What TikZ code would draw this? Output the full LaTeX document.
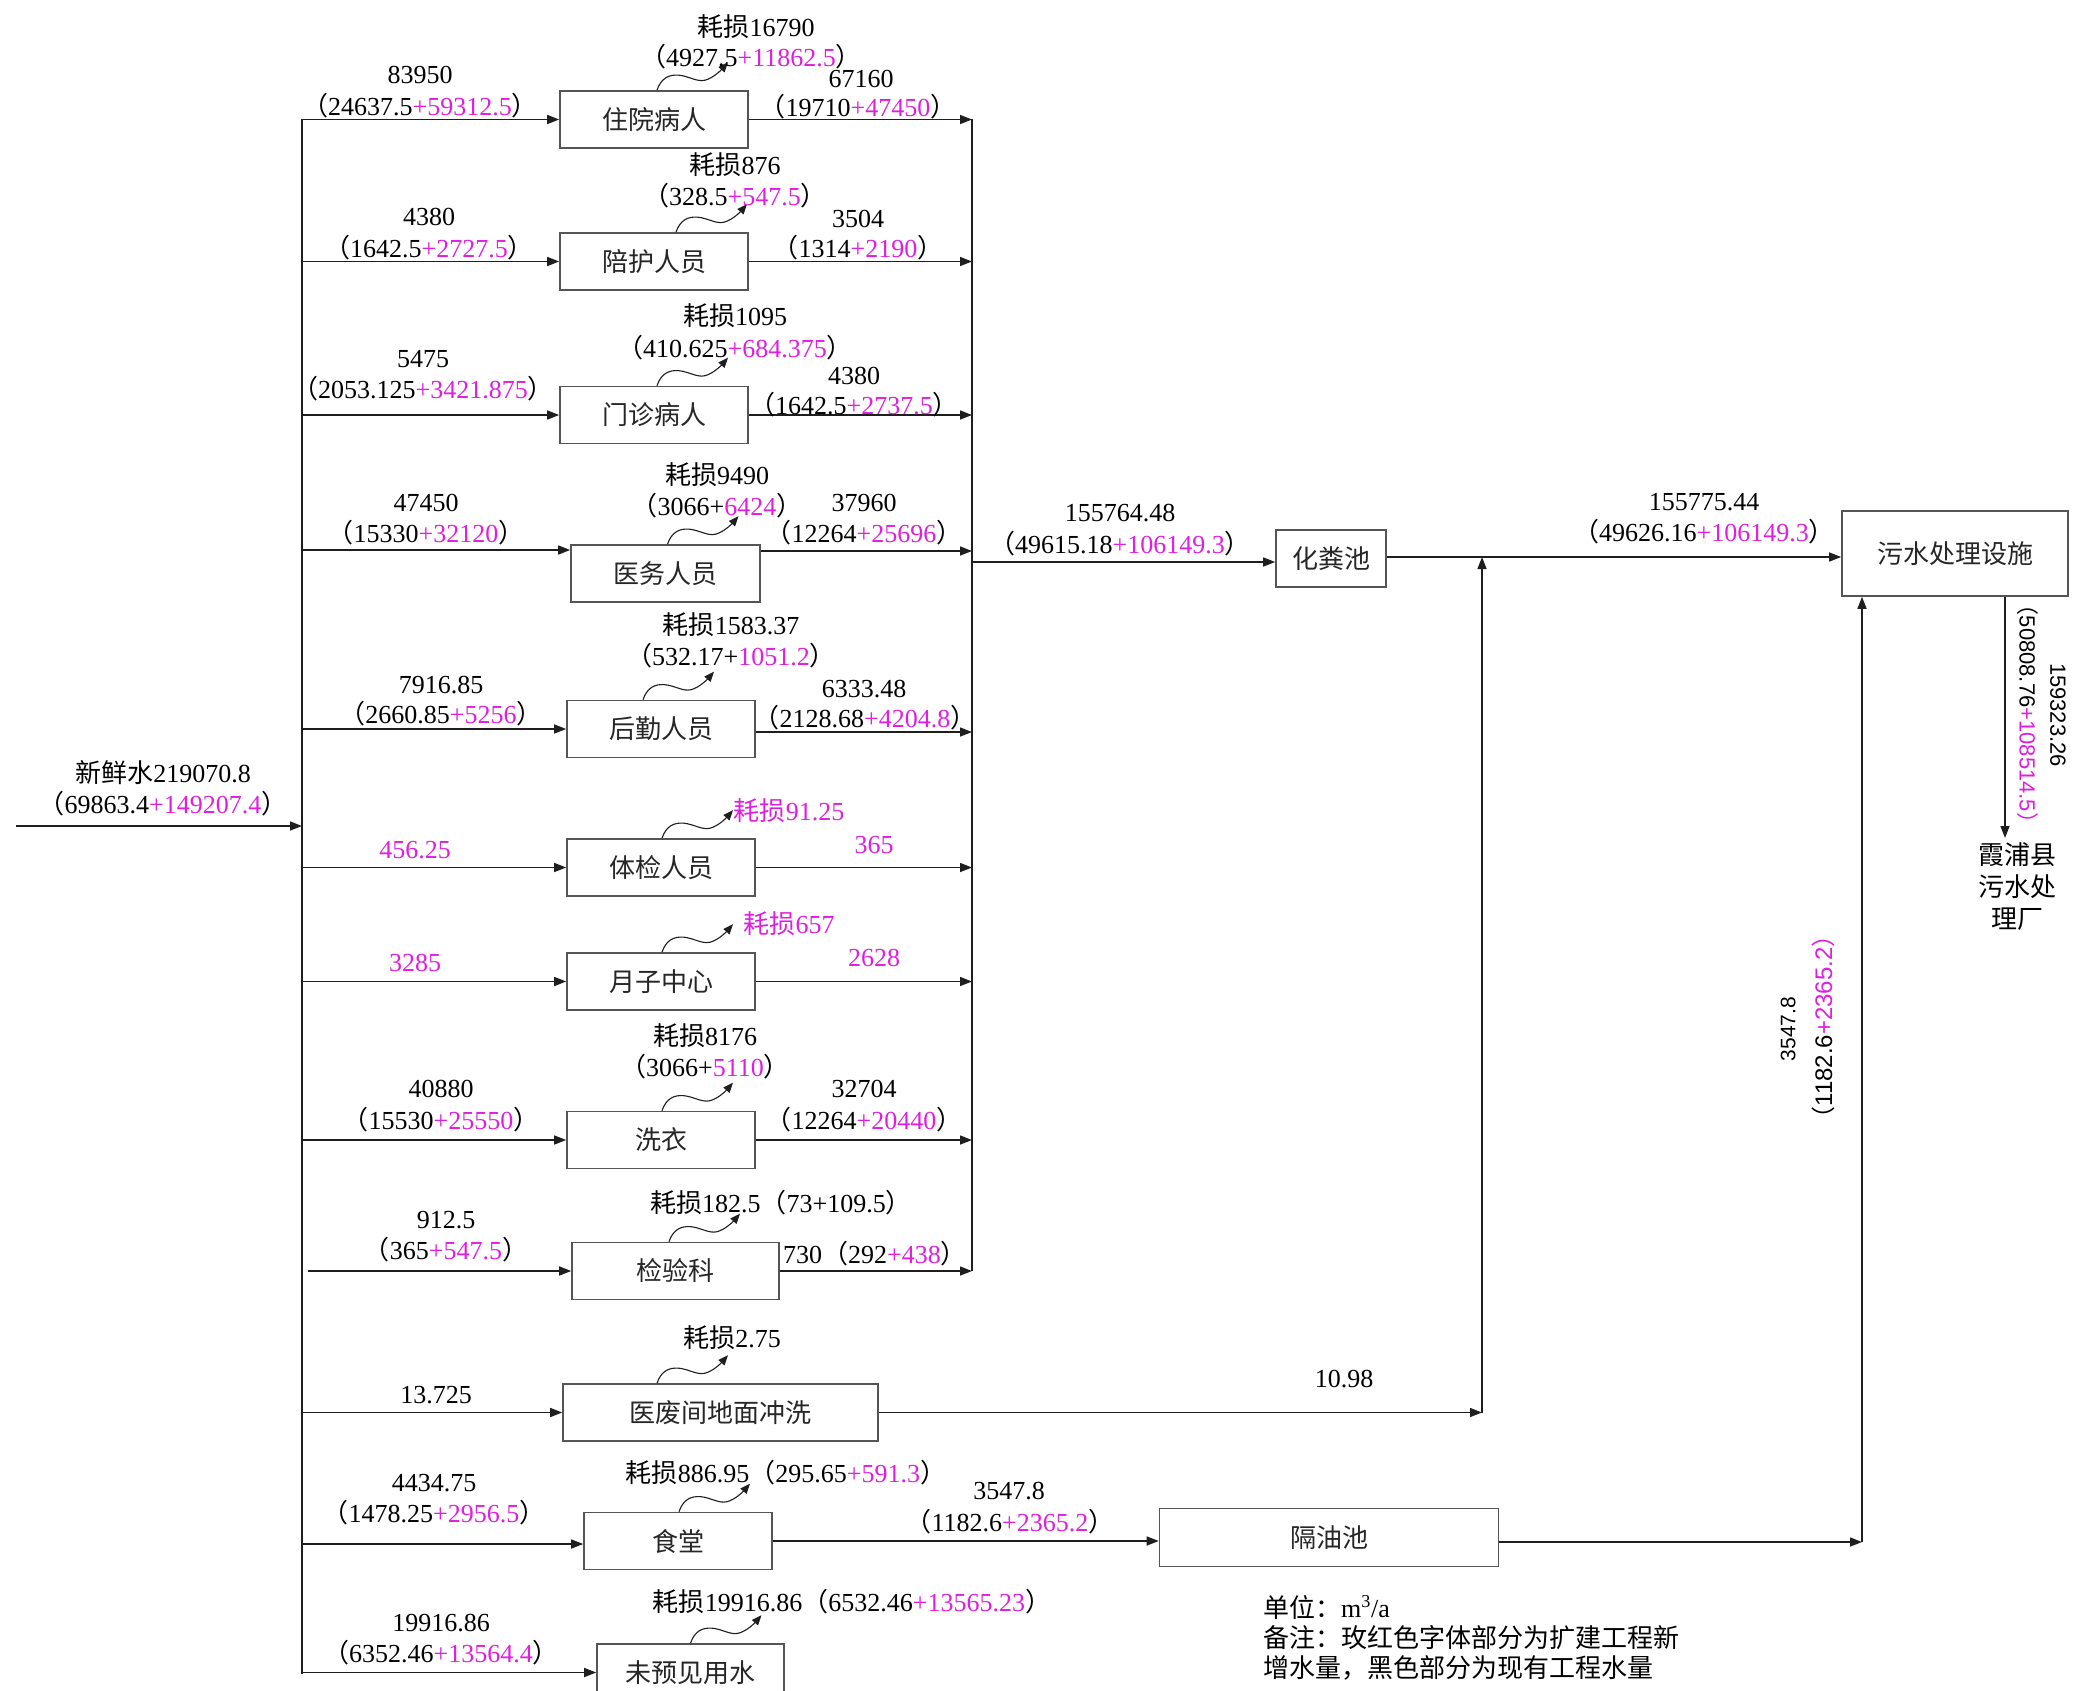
\documentclass[tikz,border=0pt]{standalone}
\usepackage{fontspec}
\setmainfont{Liberation Serif}
\newfontfamily\cjk{Noto Sans CJK SC}
\newfontfamily\sansnum{Liberation Sans}
\usetikzlibrary{arrows.meta,calc}
\definecolor{mag}{RGB}{222,32,222}
\definecolor{boxc}{RGB}{85,85,85}
\definecolor{linec}{RGB}{30,30,30}
\newcommand\LP{{\cjk （}}
\newcommand\RP{{\cjk ）}}
\newcommand\HS{{\cjk 耗损}}
\newcommand\mg[1]{\textcolor{mag}{#1}}
\begin{document}
\begin{tikzpicture}[x=1pt,y=-1pt,
  font=\fontsize{26}{31}\selectfont,
  box/.style={draw=boxc, line width=1.6pt, minimum height=57pt, inner sep=0pt,
    font=\cjk\fontsize{26}{31}\selectfont, text=black!85},
  lbl/.style={inner sep=0pt},
  rlbl/.style={inner sep=0pt, font=\sansnum\fontsize{21}{25}\selectfont},
  flow/.style={draw=linec, line width=1.4pt},
  arr/.style={flow, -{Triangle[length=12pt,width=9pt]}},
  lossl/.style={draw=linec, line width=1.1pt, -{Triangle[length=10pt,width=8pt]}},
  loss/.pic={\draw[lossl] (0,0) .. controls (4,-12) and (12,-16) .. (22,-15)
     .. controls (32,-14) and (40,-8) .. (48,-10)
     .. controls (56,-12) and (64,-20) .. (71,-28);}
]
\fill[white] (0,0) rectangle (2075,1691);
\useasboundingbox (0,0) rectangle (2075,1691);

% boxes
\node[box, minimum width=188pt] (b1) at (654,119.5) {住院病人};
\node[box, minimum width=188pt] (b2) at (654,261.5) {陪护人员};
\node[box, minimum width=188pt] (b3) at (654,415) {门诊病人};
\node[box, minimum width=189pt] (b4) at (665.5,573.5) {医务人员};
\node[box, minimum width=188pt] (b5) at (661,729) {后勤人员};
\node[box, minimum width=188pt] (b6) at (661,867.5) {体检人员};
\node[box, minimum width=188pt] (b7) at (661,981.5) {月子中心};
\node[box, minimum width=188pt] (b8) at (661,1140) {洗衣};
\node[box, minimum width=207pt] (b9) at (675.5,1271) {检验科};
\node[box, minimum width=315pt] (b10) at (720.5,1412.5) {医废间地面冲洗};
\node[box, minimum width=188pt] (b11) at (678,1541) {食堂};
\node[box, minimum width=187pt] (b12) at (690.5,1672.5) {未预见用水};
\node[box, minimum width=110pt] (hf) at (1331,558.5) {化粪池};
\node[box, minimum width=226pt, minimum height=85pt] (ws) at (1955,553.5) {污水处理设施};
\node[box, minimum width=339pt, minimum height=58pt] (gy) at (1329,1537.5) {隔油池};

% trunks
\coordinate (T1) at (302,119);
\coordinate (T2) at (302,1674);
\coordinate (C1) at (972,119);
\coordinate (C2) at (972,1271);
\draw[flow] (T1) -- (T2);
\draw[flow] (C1) -- (C2);
\coordinate (src) at (16,826);
\draw[arr] (src) -- (src -| T1);

% helper coordinates
\coordinate (b4i) at ([yshift=23.5pt]b4.west);
\coordinate (b4o) at ([yshift=22.5pt]b4.east);
\coordinate (b5o) at ([yshift=-3pt]b5.east);
\coordinate (b9s) at (308,1271);
\coordinate (b11i) at ([yshift=-3pt]b11.west);
\coordinate (hfi) at ([yshift=-3.5pt]hf.west);
\coordinate (hfo) at ([yshift=1.5pt]hf.east);
\coordinate (gyo) at ([yshift=-4.5pt]gy.east);
\coordinate (j1) at (1482,1412.5);
\coordinate (j2) at (1862,1542);
\coordinate (xp) at (2005,838);

% inflows
\draw[arr] (b1.west -| T1) -- (b1.west);
\draw[arr] (b2.west -| T1) -- (b2.west);
\draw[arr] (b3.west -| T1) -- (b3.west);
\draw[arr] (b4i -| T1) -- (b4i);
\draw[arr] (b5.west -| T1) -- (b5.west);
\draw[arr] (b6.west -| T1) -- (b6.west);
\draw[arr] (b7.west -| T1) -- (b7.west);
\draw[arr] (b8.west -| T1) -- (b8.west);
\draw[arr] (b9s) -- (b9.west);
\draw[arr] (b10.west -| T1) -- (b10.west);
\draw[arr] (b11i -| T1) -- (b11i);
\draw[arr] (b12.west -| T1) -- (b12.west);

% outflows
\draw[arr] (b1.east) -- (b1.east -| C1);
\draw[arr] (b2.east) -- (b2.east -| C1);
\draw[arr] (b3.east) -- (b3.east -| C1);
\draw[arr] (b4o) -- (b4o -| C1);
\draw[arr] (b5o) -- (b5o -| C1);
\draw[arr] (b6.east) -- (b6.east -| C1);
\draw[arr] (b7.east) -- (b7.east -| C1);
\draw[arr] (b8.east) -- (b8.east -| C1);
\draw[arr] (b9.east) -- (b9.east -| C1);
\draw[arr] (hfi -| C1) -- (hfi);
\draw[arr] (hfo) -- (hfo -| ws.west);
\draw[arr] (b10.east) -- (j1);
\draw[arr] (j1) -- (j1 |- hfo);
\draw[arr] (b11.east) -- (b11.east -| gy.west);
\draw[arr] (gyo) -- (j2);
\draw[arr] (j2) -- (j2 |- ws.south);
\draw[arr] (ws.south -| xp) -- (xp);

% loss squiggles
\pic at ([xshift=3pt]b1.north) {loss};
\pic at ([xshift=22pt]b2.north) {loss};
\pic at ([xshift=3pt]b3.north) {loss};
\pic at ([xshift=2pt]b4.north) {loss};
\pic at ([xshift=-18pt]b5.north) {loss};
\pic at ([xshift=1pt]b6.north) {loss};
\pic at ([xshift=1pt]b7.north) {loss};
\pic at ([xshift=1pt]b8.north) {loss};
\pic at ([xshift=-6.5pt]b9.north) {loss};
\pic at ([xshift=-63.5pt]b10.north) {loss};
\pic at ([xshift=1pt]b11.north) {loss};
\pic at ([xshift=0pt]b12.north) {loss};

% input label
\node[lbl] (t0a) at (163,773) {{\cjk 新鲜水}219070.8};
\node[lbl] (t0b) at (163,804) {\LP 69863.4\mg{+149207.4}\RP};

% row 1
\node[lbl] (t1a) at (420,75) {83950};
\node[lbl] (t1b) at (420,106) {\LP 24637.5\mg{+59312.5}\RP};
\node[lbl] (t1c) at (756,27) {\HS 16790};
\node[lbl] (t1d) at (751,57) {\LP 4927.5\mg{+11862.5}\RP};
\node[lbl] (t1e) at (861,79) {67160};
\node[lbl] (t1f) at (858,107) {\LP 19710\mg{+47450}\RP};
% row 2
\node[lbl] (t2a) at (429,217) {4380};
\node[lbl] (t2b) at (429,248) {\LP 1642.5\mg{+2727.5}\RP};
\node[lbl] (t2c) at (735,165) {\HS 876};
\node[lbl] (t2d) at (735,196) {\LP 328.5\mg{+547.5}\RP};
\node[lbl] (t2e) at (858,219) {3504};
\node[lbl] (t2f) at (858,248) {\LP 1314\mg{+2190}\RP};
% row 3
\node[lbl] (t3a) at (423,359) {5475};
\node[lbl] (t3b) at (423,389) {\LP 2053.125\mg{+3421.875}\RP};
\node[lbl] (t3c) at (735,316) {\HS 1095};
\node[lbl] (t3d) at (735,348) {\LP 410.625\mg{+684.375}\RP};
\node[lbl] (t3e) at (854,376) {4380};
\node[lbl] (t3f) at (854,405) {\LP 1642.5\mg{+2737.5}\RP};
% row 4
\node[lbl] (t4a) at (426,503) {47450};
\node[lbl] (t4b) at (426,533) {\LP 15330\mg{+32120}\RP};
\node[lbl] (t4c) at (717,475) {\HS 9490};
\node[lbl] (t4d) at (717,506) {\LP 3066+\mg{6424}\RP};
\node[lbl] (t4e) at (864,503) {37960};
\node[lbl] (t4f) at (864,533) {\LP 12264\mg{+25696}\RP};
% row 5
\node[lbl] (t5a) at (441,685) {7916.85};
\node[lbl] (t5b) at (441,714) {\LP 2660.85\mg{+5256}\RP};
\node[lbl] (t5c) at (731,625) {\HS 1583.37};
\node[lbl] (t5d) at (731,656) {\LP 532.17+\mg{1051.2}\RP};
\node[lbl] (t5e) at (864,689) {6333.48};
\node[lbl] (t5f) at (865,718) {\LP 2128.68\mg{+4204.8}\RP};
% row 6
\node[lbl] (t6a) at (415,850) {\mg{456.25}};
\node[lbl] (t6c) at (789,811) {\mg{\HS 91.25}};
\node[lbl] (t6e) at (874,845) {\mg{365}};
% row 7
\node[lbl] (t7a) at (415,963) {\mg{3285}};
\node[lbl] (t7c) at (789,924) {\mg{\HS 657}};
\node[lbl] (t7e) at (874,958) {\mg{2628}};
% row 8
\node[lbl] (t8a) at (441,1089) {40880};
\node[lbl] (t8b) at (441,1120) {\LP 15530\mg{+25550}\RP};
\node[lbl] (t8c) at (705,1036) {\HS 8176};
\node[lbl] (t8d) at (705,1067) {\LP 3066+\mg{5110}\RP};
\node[lbl] (t8e) at (864,1089) {32704};
\node[lbl] (t8f) at (864,1120) {\LP 12264\mg{+20440}\RP};
% row 9
\node[lbl] (t9a) at (446,1220) {912.5};
\node[lbl] (t9b) at (446,1250) {\LP 365\mg{+547.5}\RP};
\node[lbl] (t9c) at (781,1203) {\HS 182.5\LP 73+109.5\RP};
\node[lbl] (t9e) at (875,1254) {730\LP 292\mg{+438}\RP};
% row 10
\node[lbl] (t10a) at (436,1395) {13.725};
\node[lbl] (t10c) at (732,1338) {\HS 2.75};
\node[lbl] (t10e) at (1344,1379) {10.98};
% row 11
\node[lbl] (t11a) at (434,1483) {4434.75};
\node[lbl] (t11b) at (434,1513) {\LP 1478.25\mg{+2956.5}\RP};
\node[lbl] (t11c) at (786,1473) {\HS 886.95\LP 295.65\mg{+591.3}\RP};
\node[lbl] (t11e) at (1009,1491) {3547.8};
\node[lbl] (t11f) at (1010,1522) {\LP 1182.6\mg{+2365.2}\RP};
% row 12
\node[lbl] (t12a) at (441,1623) {19916.86};
\node[lbl] (t12b) at (441,1653) {\LP 6352.46\mg{+13564.4}\RP};
\node[lbl] (t12c) at (852,1602) {\HS 19916.86\LP 6532.46\mg{+13565.23}\RP};
% septic tank / treatment
\node[lbl] (th1) at (1120,513) {155764.48};
\node[lbl] (th2) at (1120,544) {\LP 49615.18\mg{+106149.3}\RP};
\node[lbl] (tw1) at (1704,502) {155775.44};
\node[lbl] (tw2) at (1704,532) {\LP 49626.16\mg{+106149.3}\RP};

% rotated labels
\node[rlbl, rotate=-90, font=\sansnum\fontsize{22}{26}\selectfont] (r1) at (2058,715) {159323.26};
\node[rlbl, rotate=-90, font=\sansnum\fontsize{22}{26}\selectfont] (r2) at (2028,714) {\LP 50808.76\mg{+108514.5\RP}};
\node[rlbl, rotate=90] (r3) at (1788,1029) {3547.8};
\node[rlbl, rotate=90, font=\sansnum\fontsize{24}{28}\selectfont] (r4) at (1823,1027) {\LP 1182.6\mg{+2365.2\RP}};

% destination
\node[lbl, align=center, font=\cjk\fontsize{26}{32}\selectfont] (xpt) at (2017,887) {霞浦县\\污水处\\理厂};

% note
\node[lbl, anchor=west] (n1) at (1263,1607) {{\cjk 单位：}m\textsuperscript{3}/a};
\node[lbl, anchor=west] (n2) at (1263,1638) {\cjk 备注：玫红色字体部分为扩建工程新};
\node[lbl, anchor=west] (n3) at (1263,1668) {\cjk 增水量，黑色部分为现有工程水量};
\end{tikzpicture}
\end{document}
